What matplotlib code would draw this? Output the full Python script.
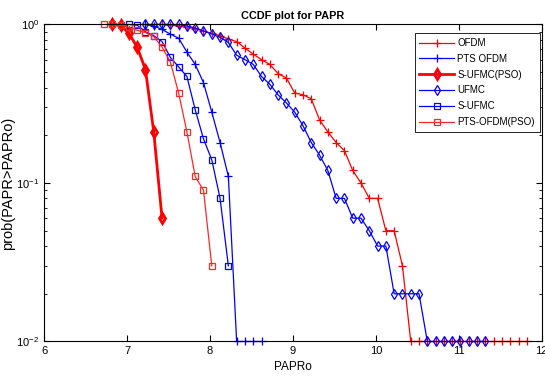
import matplotlib.pyplot as plt
from matplotlib.ticker import LogLocator, NullFormatter

plt.rcParams["font.family"] = ["Liberation Sans", "DejaVu Sans"]

# PAPRo values (dB) and CCDF values
ofdm_x = [7.42, 7.52, 7.62, 7.72, 7.82, 7.92, 8.02, 8.12, 8.22, 8.32,
          8.42, 8.52, 8.62, 8.72, 8.82, 8.92, 9.02, 9.12, 9.22, 9.32,
          9.42, 9.52, 9.62, 9.72, 9.82, 9.92, 10.02, 10.12, 10.22, 10.32,
          10.42, 10.52, 10.62, 10.72, 10.82, 10.92, 11.02, 11.12, 11.22,
          11.32, 11.42, 11.52, 11.62, 11.72, 11.82]
ofdm_y = [1.0, 0.99, 0.98, 0.96, 0.94, 0.91, 0.88, 0.85, 0.81, 0.78,
          0.71, 0.65, 0.60, 0.56, 0.49, 0.46, 0.37, 0.36, 0.34, 0.25,
          0.21, 0.18, 0.16, 0.12, 0.10, 0.08, 0.08, 0.05, 0.05, 0.03,
          0.01, 0.01, 0.01, 0.01, 0.01, 0.01, 0.01, 0.01, 0.01,
          0.01, 0.01, 0.01, 0.01, 0.01, 0.01]

pts_x = [7.22, 7.32, 7.42, 7.52, 7.62, 7.72, 7.82, 7.92, 8.02, 8.12,
         8.22, 8.32, 8.42, 8.52, 8.62]
pts_y = [1.0, 0.98, 0.93, 0.87, 0.82, 0.67, 0.56, 0.43, 0.28, 0.18,
         0.11, 0.01, 0.01, 0.01, 0.01]

sufmc_pso_x = [6.82, 6.92, 7.02, 7.12, 7.22, 7.32, 7.42]
sufmc_pso_y = [1.0, 0.99, 0.88, 0.72, 0.52, 0.21, 0.06]

ufmc_x = [7.22, 7.32, 7.42, 7.52, 7.62, 7.72, 7.82, 7.92, 8.02, 8.12,
          8.22, 8.32, 8.42, 8.52, 8.62, 8.72, 8.82, 8.92, 9.02, 9.12,
          9.22, 9.32, 9.42, 9.52, 9.62, 9.72, 9.82, 9.92, 10.02, 10.12,
          10.22, 10.32, 10.42, 10.52, 10.62, 10.72, 10.82, 10.92, 11.02,
          11.12, 11.22, 11.32]
ufmc_y = [1.0, 1.0, 1.0, 1.0, 1.0, 0.98, 0.95, 0.91, 0.87, 0.83,
          0.77, 0.64, 0.60, 0.56, 0.47, 0.42, 0.36, 0.32, 0.28, 0.23,
          0.18, 0.15, 0.12, 0.08, 0.08, 0.06, 0.06, 0.05, 0.04, 0.04,
          0.02, 0.02, 0.02, 0.02, 0.01, 0.01, 0.01, 0.01, 0.01,
          0.01, 0.01, 0.01]

sufmc_x = [7.02, 7.12, 7.22, 7.32, 7.42, 7.52, 7.62, 7.72, 7.82, 7.92,
           8.02, 8.12, 8.22]
sufmc_y = [1.0, 0.99, 0.90, 0.85, 0.78, 0.62, 0.54, 0.47, 0.29, 0.19,
           0.14, 0.08, 0.03]

pts_pso_x = [6.72, 6.82, 6.92, 7.02, 7.12, 7.22, 7.32, 7.42, 7.52, 7.62,
             7.72, 7.82, 7.92, 8.02]
pts_pso_y = [1.0, 1.0, 0.99, 0.96, 0.92, 0.89, 0.84, 0.72, 0.58, 0.37,
             0.21, 0.11, 0.09, 0.03]

fig = plt.figure(figsize=(5.45, 3.81), dpi=100)
ax = fig.add_axes([0.0813, 0.1037, 0.9127, 0.832])

kw = dict(clip_on=False, markerfacecolor="none")
ax.plot(ofdm_x, ofdm_y, "-+", color="red", lw=0.9, ms=5.5, mew=0.9, label="OFDM", **kw)
ax.plot(pts_x, pts_y, "-+", color="blue", lw=0.9, ms=5.5, mew=0.9, label="PTS OFDM", **kw)
ax.plot(sufmc_pso_x, sufmc_pso_y, "-d", color="red", lw=2, ms=5.5, mew=2,
        label="S-UFMC(PSO)", **kw)
ax.plot(ufmc_x, ufmc_y, "-d", color="blue", lw=0.9, ms=5.5, mew=0.9, label="UFMC", **kw)
ax.plot(sufmc_x, sufmc_y, "-s", color="blue", lw=0.9, ms=4.5, mew=0.9, label="S-UFMC", **kw)
ax.plot(pts_pso_x, pts_pso_y, "-s", color="#ff2828", lw=0.9, ms=4.5, mew=0.9,
        label="PTS-OFDM(PSO)", **kw)

ax.set_yscale("log")
ax.set_xlim(6, 12)
ax.set_ylim(1e-2, 1)
ax.set_xticks([6, 7, 8, 9, 10, 11, 12])
ax.yaxis.set_minor_locator(LogLocator(base=10, subs=range(2, 10)))
ax.yaxis.set_minor_formatter(NullFormatter())
ax.tick_params(which="both", direction="in", top=True, right=True, labelsize=8)
ax.tick_params(which="major", length=4)
ax.tick_params(which="minor", length=2.5)
for s in ax.spines.values():
    s.set_linewidth(0.8)

ax.set_title("CCDF plot for PAPR", fontsize=7.8, fontweight="bold", pad=4)
ax.set_xlabel("PAPRo", fontsize=8.5, labelpad=3)
ax.set_ylabel("prob(PAPR>PAPRo)", fontsize=10.5, labelpad=1)

leg = ax.legend(loc="upper right", bbox_to_anchor=(0.996, 0.973), fontsize=7,
                numpoints=1, handlelength=3.6, fancybox=False, framealpha=1,
                edgecolor="black", borderaxespad=0, labelspacing=0.6,
                handletextpad=0.3, borderpad=0.5)
leg.get_frame().set_linewidth(0.6)

fig.savefig("out.png", dpi=100)
